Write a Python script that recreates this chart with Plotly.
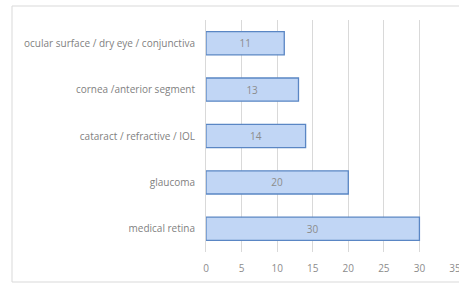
import plotly.graph_objects as go

categories = ["ocular surface / dry eye / conjunctiva", "cornea /anterior segment",
              "cataract / refractive / IOL", "glaucoma", "medical retina"]
values = [11, 13, 14, 20, 30]
x_ticks = [0, 5, 10, 15, 20, 25, 30, 35]

L, R, T, B = 206, 4, 20, 31
W, H = 459, 283
pw = W - L - R
ph = H - T - B

fig = go.Figure(go.Bar(
    x=values, y=categories, orientation="h",
    marker=dict(color="#c1d6f5", line=dict(color="#5a86c4", width=1.3)),
    width=0.5,
    text=[str(v) for v in values], textposition="inside", insidetextanchor="middle",
    textfont=dict(color="#8c8c8c", size=10, family="Open Sans"),
))

fig.update_layout(
    width=W, height=H, margin=dict(l=L, r=R, t=T, b=B),
    paper_bgcolor="white", plot_bgcolor="white", showlegend=False,
    font=dict(family="Open Sans", color="#7f7f7f", size=10),
    xaxis=dict(range=[0, 35], tickvals=x_ticks, showgrid=True, gridcolor="#d9d9d9",
               gridwidth=1, zeroline=False, showline=False, ticks="",
               automargin=False, ticklabeloverflow="allow",
               tickfont=dict(size=10, color="#8c8c8c"), ticklabelstandoff=9),
    yaxis=dict(categoryorder="array", categoryarray=categories, autorange="reversed",
               showgrid=False, zeroline=False, showline=True, linecolor="#d9d9d9",
               automargin=False,
               ticks="", ticklabelstandoff=8, tickfont=dict(size=10, color="#7f7f7f")),
    shapes=[dict(type="rect", xref="paper", yref="paper",
                 x0=(12 - L) / pw, x1=(W + 5 - L) / pw,
                 y0=(H - B - 282) / ph, y1=1 + (T - 6) / ph,
                 line=dict(color="#d9d9d9", width=1), fillcolor="rgba(0,0,0,0)", layer="below")],
)

fig.write_html("out.html", config={"displayModeBar": False},
               post_script="document.body.style.margin='0';")
